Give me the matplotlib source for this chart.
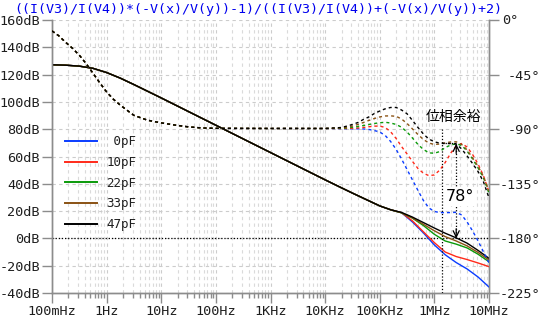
import numpy as np
import matplotlib
matplotlib.use("Agg")
import matplotlib.pyplot as plt
from matplotlib.ticker import FixedLocator, NullFormatter, LogLocator

# ---------------- data ----------------
series_names = ["0pF", "10pF", "22pF", "33pF", "47pF"]
series_colors = ["#0a3cff", "#ff2a1a", "#0a9a0a", "#8a5214", "#000000"]

# magnitude, identical for all series up to 100 kHz
freq_mag_common = [0.1, 0.178, 0.316, 0.562, 1, 1.78, 3.16, 5.62, 10, 31.6, 100,
                   316, 1e3, 3.16e3, 1e4, 1.78e4, 3.16e4, 5.62e4, 1e5]
mag_common = [127.2, 126.9, 126.2, 124.6, 121.5, 117.4, 112.7, 107.8, 102.9, 92.9, 82.9,
              72.9, 62.9, 52.9, 42.9, 38.0, 33.2, 28.5, 23.8]
freq_mag_hi = [158e3, 251e3, 398e3, 631e3, 1e6, 1.58e6, 2.51e6, 3.98e6, 6.31e6, 10e6]
mag_0pF = [21.0, 18.8, 12.0, 4.0, -4.8, -12.0, -17.7, -22.4, -28.3, -35.6]
mag_10pF = [21.0, 18.8, 12.8, 4.8, -3.1, -10.0, -13.3, -15.5, -18.0, -20.7]
mag_22pF = [21.0, 18.7, 14.8, 9.4, 3.0, -1.9, -4.2, -7.0, -11.6, -17.1]
mag_33pF = [21.0, 18.8, 15.0, 10.3, 5.6, 1.3, -1.9, -5.5, -10.3, -15.8]
mag_47pF = [21.0, 19.0, 15.6, 11.6, 7.6, 3.8, 0.4, -3.5, -8.8, -14.6]

# phase, identical for all series up to 10 kHz
freq_ph_common = [0.1, 0.133, 0.178, 0.237, 0.316, 0.422, 0.562, 0.75, 1, 1.33, 1.78,
                  3.16, 5.62, 10, 17.8, 31.6, 56.2, 100, 1e3, 1e4]
ph_common = [-9.0, -13.0, -18.4, -23.3, -29.0, -36.0, -43.8, -51.8, -59.3, -65.3, -70.2,
             -78.6, -82.6, -84.8, -86.6, -88.1, -89.0, -89.3, -89.4, -89.4]
freq_ph_hi = [20e3, 25.1e3, 31.6e3, 39.8e3, 50.1e3, 63.1e3, 79.4e3, 100e3, 126e3, 158e3,
              200e3, 251e3, 316e3, 398e3, 501e3, 631e3, 794e3, 1e6, 1.26e6, 1.58e6,
              2e6, 2.51e6, 3.16e6, 3.98e6, 5.01e6, 6.31e6, 7.94e6, 10e6]
ph_0pF = [-89.6, -89.7, -89.7, -89.7, -89.8, -90.2, -91.1, -92.3, -95.2, -100.1,
          -106.7, -114.6, -123.2, -131.9, -140.5, -148.8, -154.9, -157.8, -158.7, -158.8,
          -158.7, -158.5, -160.7, -166.5, -173.9, -182.1, -191.2, -200.3]
ph_10pF = [-89.4, -89.4, -89.3, -89.0, -88.6, -88.0, -87.5, -87.4, -88.6, -92.1,
           -97.7, -104.3, -110.4, -116.6, -122.4, -126.3, -128.3, -127.7, -123.6, -117.4,
           -109.6, -103.8, -101.8, -104.7, -110.9, -118.7, -128.6, -141.8]
ph_22pF = [-89.3, -88.8, -88.4, -87.8, -87.0, -86.1, -85.3, -84.7, -84.3, -84.9,
           -86.1, -88.4, -92.3, -97.3, -102.6, -106.7, -109.5, -109.8, -108.4, -105.1,
           -103.0, -102.0, -103.4, -108.0, -114.6, -122.0, -130.2, -142.6]
ph_33pF = [-89.0, -88.2, -87.4, -86.1, -84.5, -82.8, -81.2, -79.9, -79.1, -79.0,
           -79.4, -81.6, -85.3, -89.8, -94.4, -98.5, -101.4, -102.6, -102.2, -101.2,
           -100.5, -100.4, -102.6, -107.1, -113.7, -120.7, -129.0, -140.9]
ph_47pF = [-88.6, -87.4, -86.1, -84.5, -82.0, -79.9, -77.1, -75.0, -73.2, -72.1,
           -72.1, -74.2, -77.3, -82.8, -88.6, -94.0, -98.1, -100.4, -101.5, -101.8,
           -101.8, -102.2, -106.3, -112.1, -118.3, -124.9, -133.5, -146.7]

x_ticks = [0.1, 1, 10, 100, 1e3, 1e4, 1e5, 1e6, 1e7]
x_labels = ["100mHz", "1Hz", "10Hz", "100Hz", "1KHz", "10KHz", "100KHz", "1MHz", "10MHz"]
db_ticks = [-40, -20, 0, 20, 40, 60, 80, 100, 120, 140, 160]
db_labels = [f"{v}dB" for v in db_ticks]
deg_ticks = [0, -45, -90, -135, -180, -225]
deg_labels = [f"{v}°" for v in deg_ticks]

expr = "((I(V3)/I(V4))*(-V(x)/V(y))-1)/((I(V3)/I(V4))+(-V(x)/V(y))+2)"
margin_label = "78°"
margin_title = "位相余裕"
margin_freq = 2.51e6
margin_phase = -102.0
cursor_freq = 1.38e6

mags = [mag_0pF, mag_10pF, mag_22pF, mag_33pF, mag_47pF]
phs = [ph_0pF, ph_10pF, ph_22pF, ph_33pF, ph_47pF]

# ---------------- figure ----------------
W, H = 546, 323
fig = plt.figure(figsize=(W / 100, H / 100), dpi=100)
ax = fig.add_axes([52 / W, 30 / H, 437 / W, 273 / H])
ax2 = ax.twinx()

AXC = "#8c8c8c"
TXT = "#1e1e1e"
MONO = "DejaVu Sans Mono"

ax.set_xscale("log")
ax.set_xlim(0.1, 1e7)
ax.set_ylim(-40, 160)
ax2.set_ylim(-225, 0)

# grid
ax.xaxis.set_major_locator(FixedLocator(x_ticks))
ax.xaxis.set_minor_locator(LogLocator(base=10, subs=np.arange(2, 10), numticks=20))
ax.xaxis.set_minor_formatter(NullFormatter())
ax.set_xticklabels(x_labels)
ax.yaxis.set_major_locator(FixedLocator(db_ticks))
ax.set_yticklabels(db_labels)
ax.grid(which="major", axis="both", color="#cccccc", lw=0.8, ls=(0, (3, 3)))
ax.grid(which="minor", axis="x", color="#dadada", lw=0.8, ls=(0, (3, 3)))
ax.set_axisbelow(True)

# 0 dB line
ax.axhline(0, color="black", lw=0.9, ls=(0, (1, 1.5)), zorder=2)

# curves
for name, col, m in zip(series_names, series_colors, mags):
    ax.plot(list(freq_mag_common) + list(freq_mag_hi), list(mag_common) + list(m),
            color=col, lw=1.0, label=" " * (4 - len(name)) + name, zorder=3)
for name, col, p in zip(series_names, series_colors, phs):
    ax2.plot(list(freq_ph_common) + list(freq_ph_hi), list(ph_common) + list(p),
             color=col, lw=1.0, ls=(0, (2.2, 2.2)), zorder=3)

# spines / ticks
for a in (ax, ax2):
    a.spines["top"].set_visible(False)
    for s in ("left", "bottom", "right"):
        a.spines[s].set_color(AXC)
        a.spines[s].set_linewidth(1.0)
ax.tick_params(axis="both", which="major", length=7.2, width=1.0, color=AXC,
               labelsize=9.7, labelcolor=TXT, pad=1.5)
ax.tick_params(axis="x", which="minor", length=3.6, width=1.0, color=AXC)
for lbl in ax.get_xticklabels() + ax.get_yticklabels():
    lbl.set_fontfamily(MONO)

ax2.yaxis.set_major_locator(FixedLocator(deg_ticks))
ax2.set_yticklabels([""] + deg_labels[1:], ha="right", fontfamily=MONO)
ax2.tick_params(axis="y", which="major", length=7.2, width=1.0, color=AXC,
                labelsize=9.7, labelcolor=TXT, pad=29.5)
fig.text(502 / W, 1 - 20 / H, deg_labels[0], ha="left", va="center",
         fontsize=9.7, color=TXT, family=MONO)

# expression title
fig.text(258 / W, 1 - 10 / H, expr, ha="center", va="center", fontsize=9.6,
         color="#0000ee", family=MONO)

# legend
leg = ax.legend(loc="upper left", bbox_to_anchor=(0.03, 0.578), frameon=False,
                prop={"family": MONO, "size": 9}, handlelength=2.55,
                handletextpad=0.75, labelspacing=0.62, borderpad=0, borderaxespad=0)
for t in leg.get_texts():
    t.set_color(TXT)
for h in leg.get_lines():
    h.set_linewidth(1.4)

# phase margin annotation
ax.plot([cursor_freq, cursor_freq], [80, -40], color="black", lw=0.9,
        ls=(0, (1, 1.5)), zorder=4, clip_on=False)
ax2.plot([cursor_freq, margin_freq], [margin_phase + 0.4, margin_phase + 0.4],
         color="black", lw=0.9, ls=(0, (1, 1.5)), zorder=4)
ax2.plot([margin_freq, margin_freq], [margin_phase, -180], color="black", lw=0.9,
         ls=(0, (1, 1.5)), zorder=4)
arr = dict(arrowstyle="->,head_length=0.45,head_width=0.22", color="black", lw=0.9,
           shrinkA=0, shrinkB=0)
ax2.annotate("", xy=(margin_freq, -180), xytext=(margin_freq, -172), arrowprops=arr)
ax2.annotate("", xy=(margin_freq, margin_phase), xytext=(margin_freq, margin_phase - 8),
             arrowprops=arr)
ax2.text(2.94e6, -145.6, margin_label, ha="center", va="center", fontsize=11.5,
         color="black", family="DejaVu Sans", zorder=6,
         bbox=dict(fc="white", ec="none", pad=1.0))
ax2.text(2.27e6, -79.7, margin_title, ha="center", va="center", fontsize=10,
         color="black", family=["Noto Sans CJK JP", "DejaVu Sans"], zorder=6)

fig.savefig("out.png", dpi=100)
